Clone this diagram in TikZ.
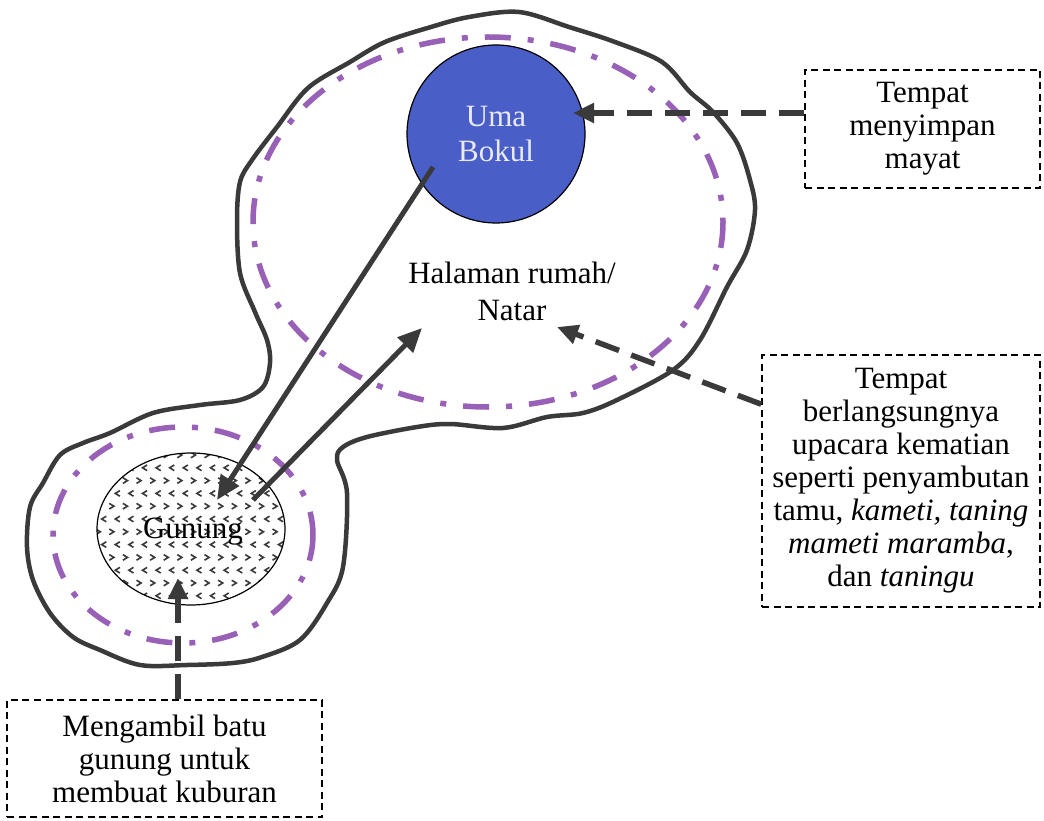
\documentclass[tikz,border=0pt]{standalone}
\usepackage{fontspec}
\setmainfont{Liberation Serif}
\usetikzlibrary{arrows.meta,shapes.geometric,calc}
\definecolor{ink}{RGB}{58,58,58}
\definecolor{umablue}{RGB}{74,94,200}
\definecolor{umatext}{RGB}{232,234,250}
\definecolor{dashpurple}{RGB}{152,96,182}
\begin{document}
\begin{tikzpicture}[x=1pt,y=-1pt,
  lbl/.style={font=\fontsize{31}{33}\selectfont, align=center, inner sep=0pt},
  blob/.style={draw=ink, line width=4.5pt, line join=round},
  pdash/.style={draw=dashpurple, line width=5.5pt, dash pattern=on 26pt off 17pt on 6pt off 17pt},
  solidarrow/.style={draw=ink, line width=5pt, -{Triangle[length=24pt,width=21pt]}},
  dasharrow/.style={draw=ink, line width=5.5pt, dash pattern=on 25pt off 13pt, -{Triangle[length=21pt,width=19pt]}},
  notebox/.style={draw=black, line width=1.6pt, dash pattern=on 7pt off 4.5pt, inner sep=0pt,
    font=\fontsize{31}{33}\selectfont, align=center},
  chev/.style={draw=ink, line width=1.6pt}
]
\useasboundingbox (0,0) rectangle (1044,821);
\fill[white] (0,0) rectangle (1044,821);

% outer boundary
\draw[blob] plot[smooth cycle, tension=0.55] coordinates {
 (519,12) (569,27) (615,42) (662,62) (690,92) (713,112) (737,143) (750,180) (755,210)
 (747,250) (727,287) (700,340) (673,370) (617,400) (583,413) (547,417) (503,428)
 (450,424) (417,427) (367,437) (343,447) (337,460) (347,493) (343,567) (327,603)
 (300,640) (262,657) (233,663) (187,665) (140,665) (100,650) (73,637) (50,613)
 (33,580) (27,547) (30,507) (43,483) (60,455) (83,443) (110,433) (153,413)
 (200,405) (240,400) (263,387) (270,363) (267,340) (255,312) (240,273) (237,220)
 (240,182) (252,160) (277,127) (308,88) (350,62) (385,42) (431,27) (469,17)};

% purple dash-dot boundaries
\draw[pdash] (488,222) ellipse [x radius=235, y radius=185];
\draw[pdash] (183,535) ellipse [x radius=130, y radius=108];

% Uma Bokul
\node[circle, draw=black, line width=1.2pt, fill=umablue, minimum size=178pt, inner sep=0pt,
      font=\fontsize{31}{35}\selectfont, text=umatext, align=center] (uma) at (496,134) {Uma\\Bokul};

% Gunung
\begin{scope}
\clip (191,529) ellipse [x radius=94, y radius=76];
\foreach \r in {0,...,12}{
  \foreach \c in {0,...,14}{
    \pgfmathsetmacro{\yy}{455+\r*12.8}
    \ifodd\r
      \pgfmathsetmacro{\xx}{104+\c*13.6}
      \draw[chev] (\xx+2.3,\yy-2.8) -- (\xx-2.3,\yy) -- (\xx+2.3,\yy+2.8);
    \else
      \pgfmathsetmacro{\xx}{98+\c*13.6}
      \draw[chev] (\xx-2.3,\yy-2.8) -- (\xx+2.3,\yy) -- (\xx-2.3,\yy+2.8);
    \fi
  }
}
\end{scope}
\node[ellipse, draw=black, line width=1.2pt, minimum width=188pt, minimum height=152pt, inner sep=0pt] (gunung) at (191,529) {};
\node[lbl] (gunungtext) at (193,532) {Gunung};

% Halaman
\node[font=\fontsize{31}{37}\selectfont, align=center, inner sep=0pt] (halaman) at (512,291) {Halaman rumah/\\Natar};

% note boxes
\node[notebox, minimum width=235pt, minimum height=118pt] (box1) at (922.5,129) {Tempat\\menyimpan\\mayat};
\node[notebox, minimum width=278pt, minimum height=252pt] (box2) at (901,481)
  {Tempat\\berlangsungnya\\upacara kematian\\seperti penyambutan\\tamu, \textit{kameti, taning}\\\textit{mameti maramba},\\dan \textit{taningu}};
\node[notebox, minimum width=315pt, minimum height=117pt] (box3) at (164.5,758.5) {Mengambil batu\\gunung untuk\\membuat kuburan};

% connector end points
\coordinate (umaout) at (433,167);
\coordinate (gunungin) at (217,500);
\coordinate (gunungout) at (253,500);
\coordinate (halamanin) at (422,328);
\coordinate (umain) at (573,113);
\coordinate (natarin) at (557,327);
\coordinate (gunungbot) at (178,578);
\coordinate (b1start) at ($(box1.west)+(0,-16)$);
\coordinate (b2start) at ($(box2.north west)+(0,50)$);
\coordinate (b3start) at ($(box3.north)+(13.5,0)$);

% arrows
\draw[solidarrow] (umaout) -- (gunungin);
\draw[solidarrow] (gunungout) -- (halamanin);
\draw[dasharrow] (b1start) -- (umain);
\draw[dasharrow] (b2start) -- (natarin);
\draw[dasharrow] (b3start) -- (gunungbot);
\end{tikzpicture}
\end{document}
